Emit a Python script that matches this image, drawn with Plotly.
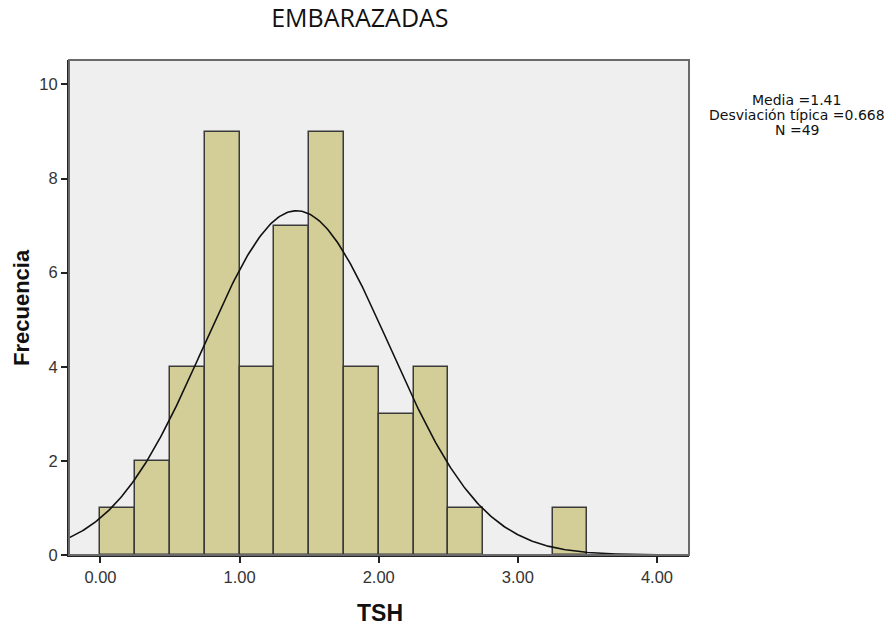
import numpy as np
import plotly.graph_objects as go

# Data
bin_starts = [0.00, 0.25, 0.50, 0.75, 1.00, 1.25, 1.50, 1.75, 2.00, 2.25, 2.50, 2.75, 3.00, 3.25]
counts = [1, 2, 4, 9, 4, 7, 9, 4, 3, 4, 1, 0, 0, 1]
bin_width = 0.25
mean_val = 1.41
sd_val = 0.668
n_val = 49
x_ticks = [0, 1, 2, 3, 4]
x_tick_labels = ["0.00", "1.00", "2.00", "3.00", "4.00"]
y_ticks = [0, 2, 4, 6, 8, 10]
stats_lines = ["Media =1.41", "Desviación típica =0.668", "N =49"]

centers = [s + bin_width / 2 for s, c in zip(bin_starts, counts) if c > 0]
heights = [c for c in counts if c > 0]

fig = go.Figure()
fig.add_trace(go.Bar(
    x=centers, y=heights, width=[bin_width] * len(centers),
    marker=dict(color="#D3CE97", line=dict(color="#3A3A3A", width=1.5)),
    showlegend=False, hoverinfo="x+y",
))

# Fitted normal curve from the reported statistics
xc = np.linspace(-0.226, 4.0, 400)
yc = n_val * bin_width / (sd_val * np.sqrt(2 * np.pi)) * np.exp(-0.5 * ((xc - mean_val) / sd_val) ** 2)
fig.add_trace(go.Scatter(x=xc, y=yc, mode="lines", line=dict(color="#111111", width=1.6),
                         showlegend=False, hoverinfo="skip"))

L, R, T, B = 69, 204, 60, 70
plot_h = 625 - T - B
plot_w = 893 - L - R
bottom_px = 625 - B

def ypaper(px):
    return (bottom_px - px) / plot_h

def xpaper(px):
    return (px - L) / plot_w

annotations = []
for i, line in enumerate(stats_lines):
    annotations.append(dict(xref="paper", yref="paper", x=xpaper(797), y=ypaper(100.5 + 14.8 * i),
                            xanchor="center", yanchor="middle", text=line, showarrow=False,
                            font=dict(family="DejaVu Sans, sans-serif", size=14, color="#111111")))
annotations.append(dict(xref="paper", yref="paper", x=xpaper(380), y=ypaper(613),
                        xanchor="center", yanchor="middle", text="<b>TSH</b>", showarrow=False,
                        font=dict(size=23, color="#111111")))
annotations.append(dict(xref="paper", yref="paper", x=xpaper(21), y=ypaper(308),
                        xanchor="center", yanchor="middle", text="<b>Frecuencia</b>", showarrow=False,
                        textangle=-90, font=dict(size=22, color="#111111")))

fig.update_layout(
    width=893, height=625,
    margin=dict(l=L, r=R, t=T, b=B, autoexpand=False),
    paper_bgcolor="white", plot_bgcolor="#EFEFEF",
    bargap=0,
    font=dict(family="Liberation Sans, Arial, sans-serif", color="#222222"),
    title=dict(text="EMBARAZADAS", x=0.403, xanchor="center", y=0.971, yanchor="middle",
               font=dict(family="Liberation Sans Narrow, Open Sans, sans-serif", size=25, color="#111111")),
    xaxis=dict(range=[-0.226, 4.23], tickvals=x_ticks, ticktext=x_tick_labels,
               ticks="outside", ticklen=6, tickwidth=2, tickcolor="#222222",
               showgrid=False, zeroline=False, automargin=False,
               showline=True, linecolor="#222222", linewidth=2,
               tickfont=dict(size=16.5, color="#333333")),
    yaxis=dict(range=[0, 10.52], tickvals=y_ticks,
               ticks="outside", ticklen=6, tickwidth=2, tickcolor="#222222",
               showgrid=False, zeroline=False, automargin=False,
               showline=True, linecolor="#222222", linewidth=2,
               tickfont=dict(size=16.5, color="#333333")),
    shapes=[dict(type="rect", xref="paper", yref="paper", x0=0, x1=1, y0=0, y1=1,
                 line=dict(color="#6A6A6A", width=2), fillcolor="rgba(0,0,0,0)", layer="above")],
    annotations=annotations,
)

fig.write_html("out.html")
